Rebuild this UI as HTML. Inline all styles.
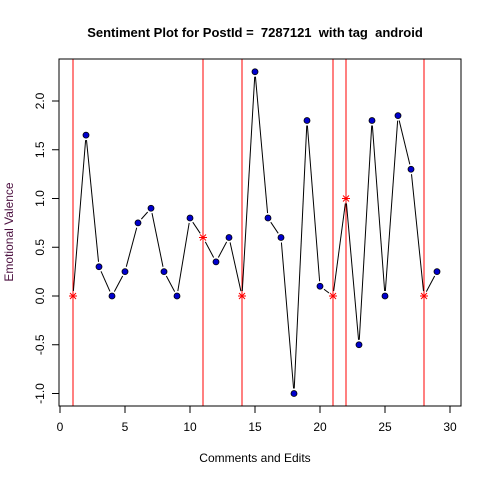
<!DOCTYPE html>
<html><head><meta charset="utf-8"><style>
body{margin:0;background:#fff}
svg{font-family:"Liberation Sans",Arial,sans-serif}
#title{white-space:pre}
</style></head><body>
<svg id="c" width="480" height="480" viewBox="0 0 480 480">
<rect width="480" height="480" fill="#fff"/>
<text id="title" xml:space="preserve" x="255" y="37" text-anchor="middle" font-size="13" font-weight="bold">Sentiment Plot for PostId =  7287121  with tag  android</text>
<text x="255" y="462" text-anchor="middle" font-size="12">Comments and Edits</text>
<text transform="translate(13,232) rotate(-90)" text-anchor="middle" font-size="12" fill="#4b0f3f">Emotional Valence</text>
<g id="marks"></g>
<rect x="59" y="59" width="402" height="347" fill="none" stroke="#000"/>
</svg>
<script>
const xs=[1,2,3,4,5,6,7,8,9,10,11,12,13,14,15,16,17,18,19,20,21,22,23,24,25,26,27,28,29];
const vals=[0,1.65,0.3,0,0.25,0.75,0.9,0.25,0,0.8,0.6,0.35,0.6,0,2.3,0.8,0.6,-1,1.8,0.1,0,1.0,-0.5,1.8,0,1.85,1.3,0,0.25];
const vlines=[1,11,14,21,22,28];
const xTicks=[0,5,10,15,20,25,30];
const yTicks=[-1,-0.5,0,0.5,1,1.5,2];
const yTickLabels=["-1.0","-0.5","0.0","0.5","1.0","1.5","2.0"];
const X=v=>60+13*v, Y=v=>296-97.5*v;
const NS="http://www.w3.org/2000/svg", svg=document.getElementById('c'), g=document.getElementById('marks');
function mk(t,a,p){const e=document.createElementNS(NS,t);for(const k in a)e.setAttribute(k,a[k]);(p||g).appendChild(e);return e;}
xTicks.forEach(t=>{
 const l=mk('line',{x1:X(t),x2:X(t),y1:406,y2:413,stroke:'#000'});
 
 
 const tx=mk('text',{x:X(t),y:431,'text-anchor':'middle','font-size':12});tx.textContent=t;
 
 
});
yTicks.forEach((t,i)=>{
 const l=mk('line',{x1:52,x2:59,y1:Y(t),y2:Y(t),stroke:'#000'});
 
 
 const tx=mk('text',{transform:`translate(44,${Y(t)}) rotate(-90)`,'text-anchor':'middle','font-size':12});tx.textContent=yTickLabels[i];
 
 
});
vlines.forEach(v=>{
 const l=mk('line',{x1:X(v),x2:X(v),y1:59,y2:406,stroke:'#f00'});
 
 
});
for(let i=0;i<xs.length-1;i++){
 const x1=X(xs[i]),y1=Y(vals[i]),x2=X(xs[i+1]),y2=Y(vals[i+1]);
 const d=Math.hypot(x2-x1,y2-y1),g0=5;
 if(d<2*g0+1)continue;
 const ux=(x2-x1)/d,uy=(y2-y1)/d;
 const l=mk('line',{x1:x1+ux*g0,y1:y1+uy*g0,x2:x2-ux*g0,y2:y2-uy*g0,stroke:'#000'});
 
 
}
xs.forEach((x,i)=>{
 const cx=X(x),cy=Y(vals[i]);
 if(vlines.includes(x)){
  const s=mk('g',{stroke:'#f00','stroke-width':1});
  
  
  mk('line',{x1:cx-4,x2:cx+4,y1:cy,y2:cy},s);mk('line',{x1:cx,x2:cx,y1:cy-4,y2:cy+4},s);
  mk('line',{x1:cx-3,x2:cx+3,y1:cy-3,y2:cy+3},s);mk('line',{x1:cx-3,x2:cx+3,y1:cy+3,y2:cy-3},s);
 }else{
  const c=mk('circle',{cx:cx,cy:cy,r:3,fill:'#0000cd',stroke:'#000','stroke-width':0.8});
  
  
 }
});
</script>
</body></html>
